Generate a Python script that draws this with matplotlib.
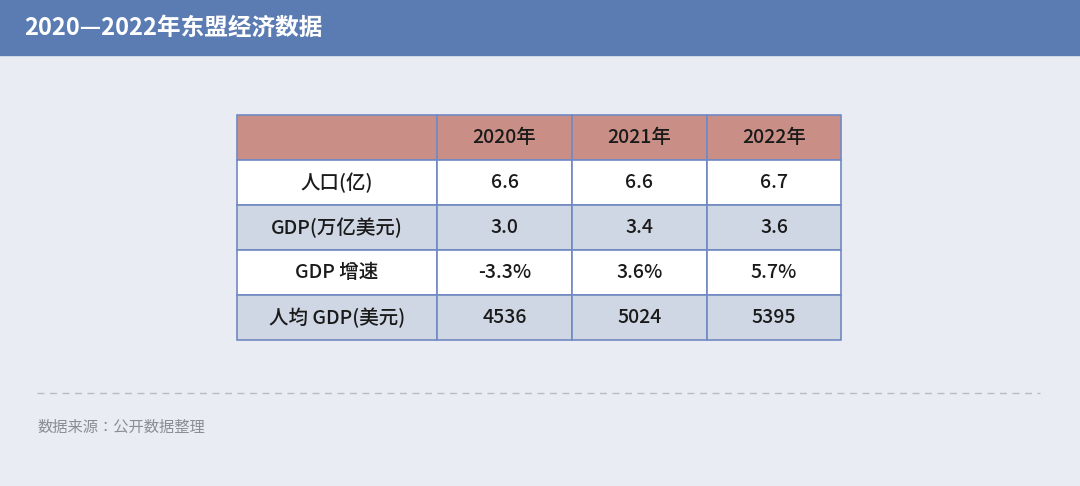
import matplotlib
matplotlib.use("Agg")
import matplotlib.pyplot as plt
from matplotlib import font_manager as fm
from matplotlib.patches import Rectangle

cjk_names = [f.name for f in fm.fontManager.ttflist if "CJK" in f.name]
fams = [n for n in ["Noto Sans CJK SC", "Noto Sans CJK JP", "Noto Sans CJK TC", "Noto Sans CJK KR"] if n in cjk_names] + cjk_names + ["DejaVu Sans"]
plt.rcParams["font.family"] = fams

title = "2020—2022年东盟经济数据"
years = ["2020年", "2021年", "2022年"]
row_labels = ["人口(亿)", "GDP(万亿美元)", "GDP 增速", "人均 GDP(美元)"]
population = ["6.6", "6.6", "6.7"]
gdp = ["3.0", "3.4", "3.6"]
growth = ["-3.3%", "3.6%", "5.7%"]
gdp_per_capita = ["4536", "5024", "5395"]
source = "数据来源：公开数据整理"

rows = [population, gdp, growth, gdp_per_capita]

W, H = 1080, 486
fig = plt.figure(figsize=(W / 100, H / 100), dpi=100)
fig.patch.set_facecolor("#e9ecf2")
ax = fig.add_axes([0, 0, 1, 1])
ax.set_xlim(0, W)
ax.set_ylim(H, 0)
ax.axis("off")

ax.add_patch(Rectangle((0, 0), W, 55, color="#5b7cb2", zorder=1))
ax.text(24, 28, title, color="white", fontsize=17, fontweight="bold", va="center", ha="left")

col_x = [237, 437, 572, 707, 841]
row_y = [115, 160, 205, 250, 295, 340]
fills = ["#c98f87", "white", "#d0d7e4", "white", "#d0d7e4"]
border = "#7189c2"

table = [[""] + years] + [[lab] + vals for lab, vals in zip(row_labels, rows)]
for r in range(5):
    for c in range(4):
        x0, x1 = col_x[c], col_x[c + 1]
        y0, y1 = row_y[r], row_y[r + 1]
        ax.add_patch(Rectangle((x0, y0), x1 - x0, y1 - y0, facecolor=fills[r],
                               edgecolor=border, linewidth=1.2, zorder=2))
        ax.text((x0 + x1) / 2, (y0 + y1) / 2, table[r][c], ha="center", va="center",
                fontsize=14, fontweight="medium", color="#1a1a1a", zorder=3)

ax.plot([37, 1040], [393, 393], linestyle=(0, (5, 4)), color="#b8bcc4", linewidth=1)
ax.text(37, 427, source, fontsize=11, color="#8a8d94", va="center", ha="left")

fig.savefig("out.png", dpi=100, facecolor=fig.get_facecolor())
